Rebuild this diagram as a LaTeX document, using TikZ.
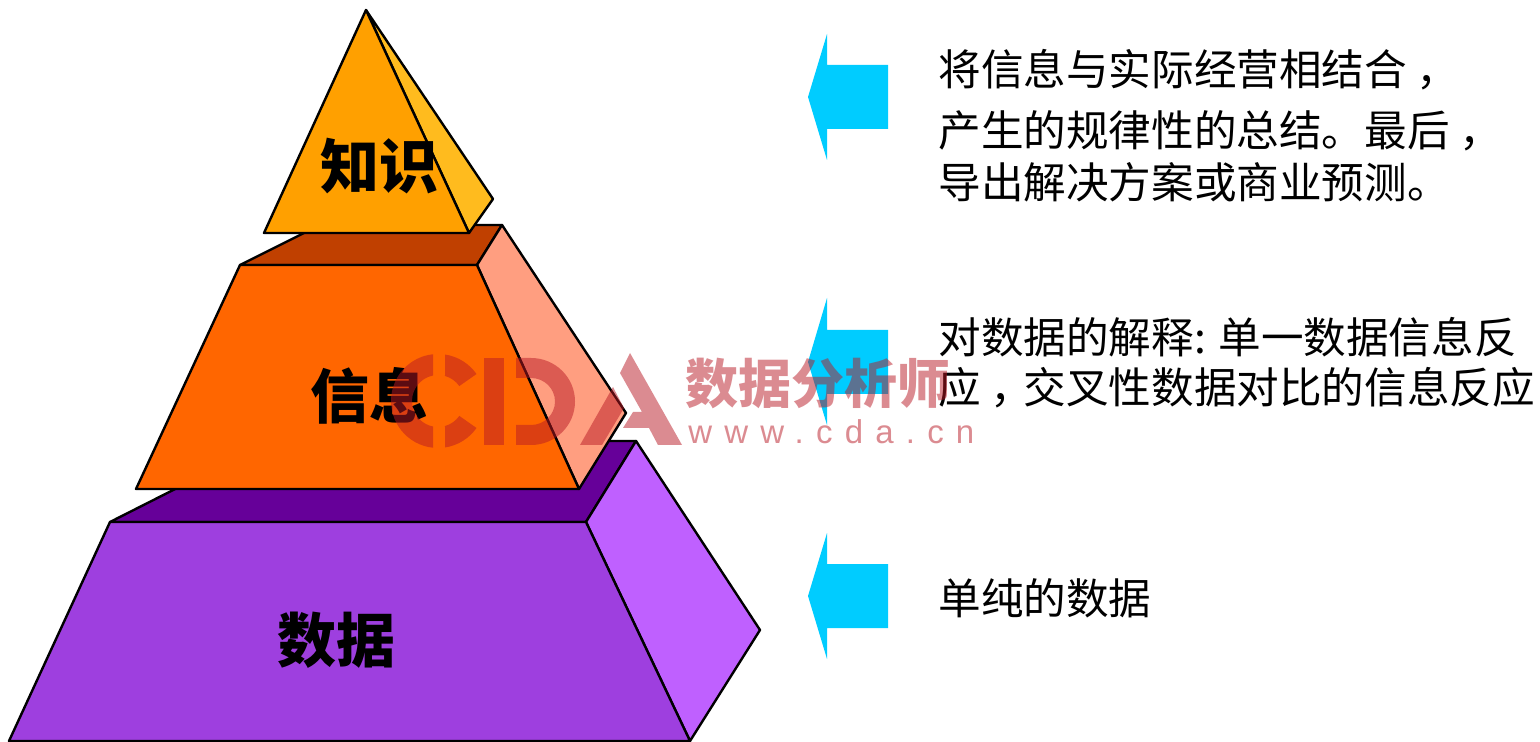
\documentclass[tikz,border=0pt]{standalone}
\usepackage{fontspec}
\setmainfont{Noto Sans CJK SC}
\newfontfamily\wmlatin[LetterSpace=37]{Liberation Sans}
\newcommand{\ccomma}{\kern 5pt，\kern -5pt}
\definecolor{wm}{RGB}{185,25,37}
\definecolor{arrowc}{RGB}{0,204,255}
\tikzset{
  face/.style={draw=black,line width=1.2pt,line join=round},
  body/.style={anchor=base west,inner sep=0pt,font=\fontsize{21.3pt}{24pt}\selectfont,text=black},
  lvl/.style={anchor=base,inner sep=0pt,font=\fontsize{29.5pt}{32pt}\selectfont\bfseries,text=black},
  wmfill/.style={fill=wm,fill opacity=.5,draw=none},
  pointer/.style={fill=arrowc,draw=none}
}
\begin{document}
\begin{tikzpicture}[x=.5pt,y=-.5pt]
\path[use as bounding box,fill=white] (0,0) rectangle (1540,742);
% data layer
\path[face,fill={rgb,255:red,102;green,0;blue,153}] (110,522) -- (270,441) -- (636,441) -- (586,522) -- cycle;
\path[face,fill={rgb,255:red,191;green,96;blue,255}] (586,522) -- (636,441) -- (760,630) -- (690,741) -- cycle;
\path[face,fill={rgb,255:red,158;green,63;blue,223}] (9,741) -- (110,522) -- (586,522) -- (690,741) -- cycle;
% information layer
\path[face,fill={rgb,255:red,192;green,64;blue,0}] (240,265) -- (320,225) -- (502,225) -- (477,265) -- cycle;
\path[face,fill={rgb,255:red,255;green,158;blue,128}] (477,265) -- (502,225) -- (626,413) -- (579,489) -- cycle;
\path[face,fill={rgb,255:red,255;green,102;blue,0}] (136,489) -- (240,265) -- (477,265) -- (579,489) -- cycle;
% knowledge layer
\path[face,fill={rgb,255:red,255;green,187;blue,30}] (366,10) -- (493,199) -- (469,233) -- cycle;
\path[face,fill={rgb,255:red,255;green,160;blue,0}] (366,10) -- (264,233) -- (469,233) -- cycle;
% labels
\node[lvl] (zs) at (379,189) {知识};
\node[lvl] (xx) at (369,419) {信息};
\node[lvl] (sj) at (336,662) {数据};
% pointers
\path[pointer] (808,97) -- (827,34) -- (827,65) -- (888,65) -- (888,129) -- (827,129) -- (827,160) -- cycle;
\path[pointer] (808,362) -- (827,298) -- (827,330) -- (888,330) -- (888,394) -- (827,394) -- (827,425) -- cycle;
\path[pointer] (808,596) -- (827,533) -- (827,564) -- (888,564) -- (888,628) -- (827,628) -- (827,659) -- cycle;
% texts
\node[body] (t1) at (938,86) {将信息与实际经营相结合\ccomma};
\node[body] (t2) at (938,147) {产生的规律性的总结。最后\ccomma};
\node[body] (t3) at (938,199) {导出解决方案或商业预测。};
\node[body] (t4) at (938,354) {对数据的解释: 单一数据信息反};
\node[body] (t5) at (938,404) {应\ccomma 交叉性数据对比的信息反应};
\node[body] (t6) at (938,614) {单纯的数据};
% watermark
\begin{scope}[shift={(438,401)}]
\path[wmfill] (96:47) arc (96:264:47) -- (259:26) arc (259:101:26) -- cycle;
\path[wmfill] (81.4:47) arc (81.4:35:47) -- (35:26) arc (35:74.4:26) -- cycle;
\path[wmfill] (-81.4:47) arc (-81.4:-35:47) -- (-35:26) arc (-35:-74.4:26) -- cycle;
\end{scope}
\path[wmfill] (484,358) rectangle (504,445);
\path[wmfill] (516,358) -- (531,358) arc (-90:90:44 and 43.5) -- (516,445) -- (516,425) -- (531,425) arc (90:-90:24 and 23.5) -- (516,378) -- cycle;
\path[wmfill] (620,373) -- (630,353) -- (682,445) -- (658,445) -- (649,428) -- (623,428) -- (633,412) -- (642,412) -- cycle;
\path[wmfill] (580,445) -- (613,387) -- (624,408) -- (602,445) -- cycle;
\node[anchor=base west,inner sep=0pt,text=wm,text opacity=.5,font=\fontsize{26.5pt}{30pt}\selectfont\bfseries] (wm1) at (685,404) {数据分析师};
\node[anchor=base west,inner sep=0pt,text=wm,text opacity=.5,font=\wmlatin\fontsize{16.5pt}{20pt}\selectfont] (wm2) at (688,444) {www.cda.cn};
\end{tikzpicture}
\end{document}
